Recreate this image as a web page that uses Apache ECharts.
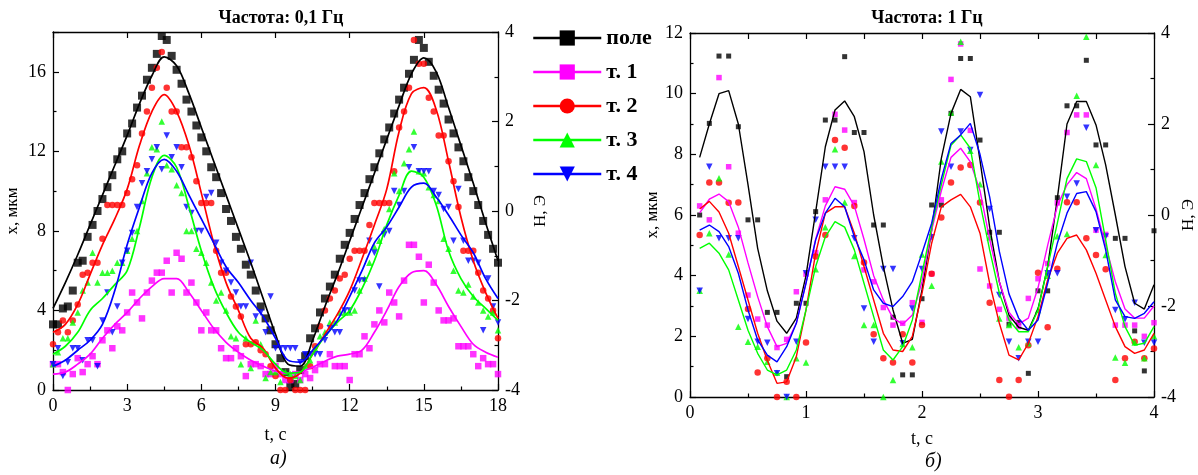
<!DOCTYPE html>
<html><head><meta charset="utf-8">
<script src="https://cdn.jsdelivr.net/npm/echarts@6/dist/echarts.min.js"></script>
<style>html,body{margin:0;padding:0;background:#fff}#c{width:1198px;height:475px}</style>
</head><body><div id="c"></div>
<script>
const seriesNames = ['поле', 'т. 1', 'т. 2', 'т. 3', 'т. 4'];
const seriesColors = ['#000000', '#ff00ff', '#ff0000', '#00ff00', '#0000ff'];
const seriesSymbols = ['rect', 'rect', 'circle', 'triangle', 'triangle'];
const seriesRotate = [0, 0, 0, 0, 180];

// ---- Panel а) 0,1 Hz : measured points every 0.2 s (t = 0 … 18 s)
const stepPointsA = 0.2;
const pointsA_field = [3.3,3.3,4.1,4.2,5.0,6.4,6.5,7.7,8.3,9.0,9.6,10.2,10.8,11.6,12.0,12.9,13.4,14.2,14.8,15.6,16.2,16.9,17.8,17.6,16.8,16.1,15.4,14.6,14.0,13.3,12.7,12.0,11.2,10.7,9.9,9.1,8.5,7.7,7.1,6.3,5.8,5.0,4.2,3.6,3.0,2.3,1.6,0.9,0.2,0.3,1.0,1.7,2.6,3.1,3.9,4.6,5.2,5.8,6.6,7.3,7.9,8.6,9.3,9.9,10.6,11.2,11.9,12.6,13.2,13.9,14.6,15.2,15.9,16.6,17.6,17.2,16.5,15.8,15.1,14.4,13.6,12.9,12.2,11.5,10.7,10.0,9.3,8.5,7.8,7.1,6.4];
const pointsA_t1 = [1.3,1.3,0.9,0.0,0.8,1.6,0.9,1.3,1.7,1.3,2.5,3.0,2.1,3.2,3.0,3.9,4.9,4.4,3.6,4.9,5.5,5.9,5.9,6.5,4.9,6.9,6.6,4.9,5.4,4.4,3.0,3.9,3.0,3.0,2.1,1.6,1.6,2.1,1.7,0.7,1.3,1.3,1.2,0.8,0.8,1.2,0.8,0.5,0.5,0.8,0.5,0.8,0.6,1.0,1.3,1.3,1.8,1.2,1.2,1.2,0.5,1.8,1.8,2.7,2.1,3.3,4.0,3.4,4.9,4.4,3.7,5.5,7.3,7.3,6.7,4.4,6.3,5.4,4.0,3.5,3.5,3.6,2.2,2.2,2.2,1.8,1.2,1.6,1.3,1.3,0.8];
const pointsA_t2 = [2.3,2.9,3.5,2.9,3.5,4.3,5.8,5.9,6.4,6.4,7.6,9.3,9.3,9.3,9.3,9.9,10.6,11.3,12.9,14.0,15.2,16.2,17.0,15.2,14.0,14.0,12.2,12.2,11.7,10.5,9.4,9.4,9.4,7.0,5.9,5.9,4.7,4.2,3.7,2.3,2.3,2.4,2.0,1.8,1.2,0.7,0.0,0.0,0.5,0.0,0.0,0.0,1.2,2.2,3.2,4.0,4.6,5.0,5.6,5.8,6.6,7.0,7.0,7.0,8.3,9.4,9.4,9.4,9.4,11.0,13.2,14.0,15.2,17.6,16.4,16.4,14.7,14.0,12.8,12.8,11.5,10.5,9.2,7.0,7.0,7.0,5.9,5.0,4.6,4.0,2.6];
const pointsA_t3 = [1.3,1.9,2.6,2.6,3.4,3.9,5.0,5.4,6.9,5.4,5.9,5.9,6.0,6.4,6.4,7.0,7.6,8.0,9.5,10.9,12.2,12.1,13.5,11.3,11.1,10.3,9.9,8.0,8.0,7.1,6.9,6.4,5.4,4.5,4.9,4.0,2.7,2.6,1.3,2.6,1.1,3.5,2.3,0.6,0.9,0.9,0.4,0.9,0.8,0.7,0.5,1.2,1.5,2.1,2.7,2.9,3.4,3.4,3.9,3.9,3.9,4.0,5.0,5.6,6.4,7.2,7.5,8.1,9.1,10.9,10.0,11.4,12.1,13.0,11.0,10.9,10.2,9.8,9.5,7.6,7.1,6.0,5.0,4.9,5.3,4.7,4.4,4.0,3.7,3.9,3.0];
const pointsA_t4 = [1.3,2.1,0.7,1.4,2.1,2.1,1.5,2.5,2.5,1.2,3.5,4.9,2.9,4.2,6.4,7.0,7.9,9.2,10.4,11.0,11.6,12.2,11.1,12.8,11.7,12.2,11.2,9.2,8.9,8.0,8.0,9.7,9.9,7.4,6.4,6.0,5.4,4.9,4.2,4.2,6.4,3.7,3.9,2.9,4.7,2.1,2.1,2.1,2.1,2.1,1.4,1.8,1.8,1.8,1.8,2.5,3.1,2.9,2.9,4.0,4.0,5.0,5.5,5.5,7.5,6.9,5.2,7.8,8.0,10.0,9.3,10.0,11.2,12.2,11.0,11.0,11.0,10.0,9.8,9.1,9.2,7.5,10.1,7.5,6.5,6.5,6.4,3.0,5.6,4.2,3.4];

// ---- Panel а) fitted curves every 0.5 s
const stepLineA = 0.5;
const lineA_field = [4.1,5.4,6.8,8.3,9.8,11.3,12.8,14.4,15.8,16.75,16.3,14.9,13.2,11.5,9.8,8.1,6.4,4.6,2.8,1.3,1.2,2.5,4.2,5.8,7.5,9.2,10.9,12.6,14.3,15.9,16.7,16.0,14.2,12.3,10.4,8.4,6.5];
const lineA_t1 = [0.8,0.9,1.3,1.8,2.6,3.3,3.9,4.6,5.2,5.6,5.6,4.9,4.0,3.1,2.4,1.9,1.5,1.2,0.95,0.85,0.9,1.15,1.45,1.7,1.8,2.0,2.9,4.0,5.2,5.9,6.0,5.3,4.2,3.2,2.3,1.9,1.65];
const lineA_t2 = [2.9,3.3,4.3,5.8,7.3,8.6,10.1,12.3,14.0,14.85,14.0,12.3,9.9,7.4,5.4,4.0,2.6,2.1,1.1,0.6,0.85,1.8,2.8,3.8,5.0,6.6,8.3,10.1,13.0,14.9,15.2,14.1,11.5,8.7,6.5,4.9,3.6];
const lineA_t3 = [1.8,2.2,2.9,4.0,4.6,5.3,6.0,8.2,10.7,11.8,11.2,9.2,7.0,5.2,3.9,2.9,2.4,2.0,1.3,0.85,0.9,1.8,2.7,3.4,4.0,5.1,6.5,8.3,9.8,11.0,10.7,9.3,7.0,5.6,4.7,4.1,3.5];
const lineA_t4 = [1.2,1.5,2.0,2.5,3.3,5.0,7.3,9.2,10.9,11.6,11.0,9.8,8.6,7.4,6.2,5.4,4.5,3.7,2.6,1.5,1.4,2.0,2.7,3.5,4.7,6.0,7.4,8.2,9.2,10.2,10.4,9.7,8.8,7.8,6.9,5.6,4.6];

// ---- Panel б) 1 Hz : samples every 1/12 s (t = 1/12 … 4 s)
const stepB = 1 / 12;
const pointsB_field = [6.0,9.02,11.24,11.24,8.91,5.84,5.84,2.79,2.79,0.67,3.09,3.09,6.11,9.13,9.13,11.22,8.72,8.72,5.67,5.67,2.63,0.73,0.73,3.24,6.33,6.33,9.35,11.16,11.16,8.47,5.43,5.43,2.4,2.46,0.78,3.5,3.5,6.57,9.6,9.6,11.1,8.31,8.31,5.23,5.23,2.18,0.86,5.48];
const pointsB_t1 = [6.3,5.84,10.53,7.59,5.4,3.36,2.57,2.37,1.63,1.9,3.47,4.05,4.76,6.5,9.32,8.8,6.41,4.19,3.8,2.95,2.37,2.43,3.11,2.46,4.06,6.5,10.47,11.64,8.79,4.22,3.66,2.89,2.6,2.32,3.25,3.9,4.4,6.4,8.72,9.3,9.3,5.5,5.36,2.37,2.37,2.37,2.0,2.45];
const pointsB_t2 = [5.34,7.07,7.07,6.4,6.41,2.9,0.81,1.28,0.0,0.5,0.0,1.8,4.63,5.34,8.47,8.22,6.3,4.43,2.07,1.28,1.14,2.07,1.14,2.37,4.06,5.92,7.07,7.57,7.65,6.41,3.11,0.56,0.01,0.56,1.71,4.1,2.3,4.23,6.42,6.42,5.23,4.68,4.21,0.56,1.28,1.82,1.28,1.6];
const pointsB_t3 = [3.5,5.4,7.21,4.7,2.32,1.82,1.66,1.16,0.8,0.0,1.28,1.14,4.21,5.6,8.17,6.41,4.65,2.37,2.37,0.0,0.56,1.75,1.64,4.7,3.67,7.76,9.38,11.71,8.12,7.01,5.27,2.59,2.37,1.64,1.77,2.87,4.0,5.3,5.37,9.93,11.88,7.65,4.68,1.3,1.13,1.8,1.28,2.0];
const pointsB_t4 = [3.5,7.59,5.23,5.23,5.23,2.57,1.82,1.79,0.78,0.0,1.82,4.08,5.84,7.59,7.59,7.59,5.23,2.92,1.82,4.22,4.22,1.77,2.92,4.22,5.27,8.75,7.59,8.75,8.14,9.96,6.2,3.36,1.82,1.28,1.82,1.82,4.08,4.08,6.6,7.04,8.88,5.5,5.29,2.87,2.56,3.11,1.79,1.79];

const lineB_field = [7.9,9.0,10.0,10.1,9.0,7.0,4.9,3.5,2.5,2.1,2.6,4.0,6.1,8.25,9.46,9.76,9.24,8.09,6.0,4.3,2.87,1.77,1.9,3.53,5.5,7.87,9.35,10.14,9.9,7.8,5.6,3.8,2.7,2.3,2.2,2.9,4.3,6.55,9.0,9.74,9.74,8.97,7.65,6.0,4.3,3.09,2.9,3.7];
const lineB_t1 = [6.07,6.52,6.69,6.44,5.6,4.42,3.31,2.32,1.66,1.77,2.43,3.76,5.2,6.3,6.93,6.85,6.3,5.2,4.0,3.2,2.6,2.4,2.7,3.8,5.5,6.8,7.9,8.2,7.75,6.8,5.2,3.8,2.8,2.4,2.6,3.6,5.0,6.3,7.0,7.4,7.2,6.2,5.0,3.8,2.9,2.6,2.6,3.0];
const lineB_t2 = [6.2,6.45,6.1,5.4,4.3,3.2,2.1,1.2,0.45,0.5,1.33,2.87,4.74,6.06,6.27,6.27,5.4,4.3,3.2,2.1,1.55,1.5,2.0,3.42,5.07,6.27,6.5,6.68,6.27,5.4,3.75,2.43,1.38,1.22,1.77,2.65,3.86,4.74,5.23,5.34,4.85,4.08,3.2,2.32,1.66,1.44,1.55,2.1];
const lineB_t3 = [4.9,5.07,4.74,4.19,3.2,2.2,1.44,0.89,0.73,0.89,1.55,2.87,4.3,5.28,5.78,5.6,4.85,3.75,2.65,1.55,1.22,1.66,2.54,4.08,5.6,7.0,8.3,8.64,8.2,6.4,4.85,3.42,2.54,2.15,2.15,2.87,4.3,5.73,7.2,7.85,7.76,6.9,5.18,3.42,2.32,1.71,1.77,2.32];
const lineB_t4 = [5.5,5.67,5.45,4.96,4.08,2.87,1.88,1.38,1.16,1.66,2.43,3.75,5.18,6.06,6.55,6.27,5.28,4.52,3.53,3.09,2.98,3.31,3.8,4.74,5.73,7.2,8.36,8.64,9.02,8.0,6.6,4.8,3.4,2.6,2.2,2.54,3.75,5.07,6.06,6.71,6.77,6.11,4.85,3.2,2.65,2.59,2.76,3.14];

const pointsA = [pointsA_field, pointsA_t1, pointsA_t2, pointsA_t3, pointsA_t4];
const linesA = [lineA_field, lineA_t1, lineA_t2, lineA_t3, lineA_t4];
const pointsB = [pointsB_field, pointsB_t1, pointsB_t2, pointsB_t3, pointsB_t4];
const linesB = [lineB_field, lineB_t1, lineB_t2, lineB_t3, lineB_t4];

function pairs(vals, step, offset) {
  return vals.map((v, i) => [+(offset + i * step).toFixed(4), v]);
}

const FONT = 'Liberation Serif';
const black = '#000';

function xAx(grid, min, max, interval, pos, showLabel, minor, name, nameGap) {
  return {
    gridIndex: grid, type: 'value', min: min, max: max, interval: interval, position: pos,
    axisLine: { show: true, onZero: false, lineStyle: { color: black, width: 1.3 } },
    axisTick: { show: true, inside: true, length: 6, lineStyle: { color: black, width: 1.2 } },
    minorTick: { show: minor, splitNumber: 2, length: 3.5, lineStyle: { color: black, width: 1.2 } },
    splitLine: { show: false },
    axisLabel: { show: showLabel, color: black, fontFamily: FONT, fontSize: 18, margin: 7 },
    name: name || '', nameLocation: 'middle', nameGap: nameGap || 30,
    nameTextStyle: { color: black, fontFamily: FONT, fontSize: 18 }
  };
}
function yAx(grid, min, max, interval, pos, name, nameGap) {
  return {
    gridIndex: grid, type: 'value', min: min, max: max, interval: interval, position: pos,
    axisLine: { show: true, onZero: false, lineStyle: { color: black, width: 1.3 } },
    axisTick: { show: true, inside: true, length: 6, lineStyle: { color: black, width: 1.2 } },
    minorTick: { show: true, splitNumber: 2, length: 3.5, lineStyle: { color: black, width: 1.2 } },
    splitLine: { show: false },
    axisLabel: { color: black, fontFamily: FONT, fontSize: 18, margin: 7, showMaxLabel: (max - min) % interval === 0 },
    name: name, nameLocation: 'middle', nameGap: nameGap, nameRotate: 90,
    nameTextStyle: { color: black, fontFamily: FONT, fontSize: 17 }
  };
}

const series = [];
for (let i = 0; i < 5; i++) {
  const base = { name: seriesNames[i], color: seriesColors[i], symbol: seriesSymbols[i], symbolRotate: seriesRotate[i] };
  series.push(Object.assign({}, base, {
    type: 'line', xAxisIndex: 0, yAxisIndex: 0, data: pairs(linesA[i], stepLineA, 0),
    smooth: 0.35, showSymbol: false, symbolSize: 8, lineStyle: { width: 1.7 }, z: 4, silent: true, animation: false
  }));
  series.push(Object.assign({}, base, {
    type: 'scatter', xAxisIndex: 0, yAxisIndex: 0, data: pairs(pointsA[i], stepPointsA, 0),
    symbolSize: i === 0 ? 8 : 6.5, z: 3, clip: false, animation: false, silent: true
  }));
  series.push(Object.assign({}, base, {
    type: 'line', xAxisIndex: 2, yAxisIndex: 2, data: pairs(linesB[i], stepB, stepB),
    smooth: false, showSymbol: false, symbolSize: 8, lineStyle: { width: 1.4 }, z: 4, silent: true, animation: false
  }));
  series.push(Object.assign({}, base, {
    type: 'scatter', xAxisIndex: 2, yAxisIndex: 2, data: pairs(pointsB[i], stepB, stepB),
    symbolSize: i === 0 ? 5 : (i === 1 ? 5.5 : 6.5), z: 3, clip: false, animation: false, silent: true
  }));
}

const chart = echarts.init(document.getElementById('c'), null, { renderer: 'canvas' });
chart.setOption({
  backgroundColor: '#ffffff',
  animation: false,
  title: [
    { text: 'Частота: 0,1 Гц', left: 276, top: 4, textAlign: 'center',
      textStyle: { fontFamily: FONT, fontWeight: 'bold', fontSize: 18, color: black } },
    { text: 'Частота: 1 Гц', left: 922, top: 4, textAlign: 'center',
      textStyle: { fontFamily: FONT, fontWeight: 'bold', fontSize: 18, color: black } }
  ],
  legend: {
    data: seriesNames, orient: 'vertical', left: 527, top: 22,
    itemWidth: 68, itemHeight: 19, itemGap: 12,
    lineStyle: { width: 2.5 },
    textStyle: { fontFamily: FONT, fontWeight: 'bold', fontSize: 22, color: black },
    selectedMode: false
  },
  grid: [
    { left: 53, top: 32, width: 445, height: 358 },
    { left: 690, top: 33, width: 464, height: 364 }
  ],
  xAxis: [
    xAx(0, 0, 18, 3, 'bottom', true, true, 't, с', 36),
    xAx(0, 0, 18, 3, 'top', false, false),
    xAx(1, 0, 4, 1, 'bottom', true, true, 't, с', 33),
    xAx(1, 0, 4, 0.5, 'top', false, false)
  ],
  yAxis: [
    yAx(0, 0, 18, 4, 'left', 'x, мкм', 32),
    yAx(0, -4, 4, 2, 'right', 'Н, Э', 34),
    yAx(1, 0, 12, 2, 'left', 'x, мкм', 25),
    yAx(1, -4, 4, 2, 'right', 'Н, Э', 20)
  ],
  graphic: [
    { type: 'text', left: 270, top: 449, style: { text: 'а)', font: 'italic 20px "Liberation Serif"', fill: black } },
    { type: 'text', left: 925, top: 452, style: { text: 'б)', font: 'italic 20px "Liberation Serif"', fill: black } }
  ],
  series: series
});
</script>
</body></html>
